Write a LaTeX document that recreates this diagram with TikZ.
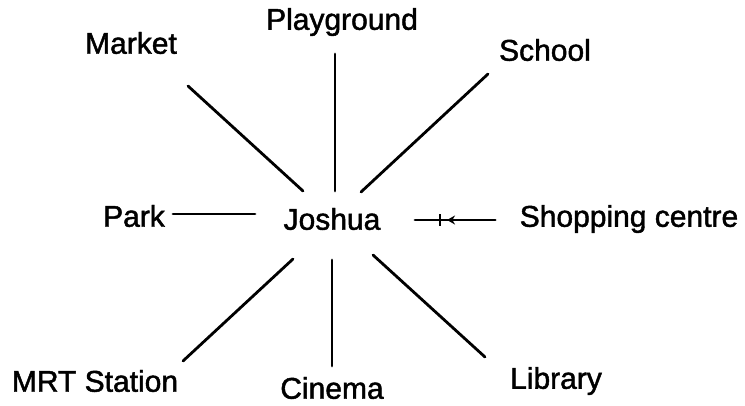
\documentclass[tikz,border=0pt]{standalone}
\usepackage{fontspec}
\setmainfont{Liberation Sans}[FakeBold=1.5]
\usetikzlibrary{arrows.meta}
\begin{document}
\begin{tikzpicture}[x=1pt,y=-1pt,
  lbl/.style={font=\fontsize{30}{33}\selectfont, inner sep=0pt, anchor=center},
  link/.style={line width=2.8pt, line cap=round}]
\useasboundingbox (0,0) rectangle (745,405);
% labels
\node[lbl] (joshua) at (332,219) {Joshua};
\node[lbl] (market) at (131,43) {Market};
\node[lbl] (playground) at (342,22) {Playground};
\node[lbl] (school) at (545,50) {School};
\node[lbl] (park) at (134,216) {Park};
\node[lbl] (shopping) at (629,219) {Shopping centre};
\node[lbl] (mrt) at (95,381) {MRT Station};
\node[lbl] (cinema) at (332,388) {Cinema};
\node[lbl] (library) at (556,381) {Library};
% connector ends
\coordinate (mA) at (188,86);   \coordinate (mB) at (303,191);
\coordinate (pA) at (335,54);   \coordinate (pB) at (335,191);
\coordinate (sA) at (488,74);   \coordinate (sB) at (361,192);
\coordinate (kA) at (173,214);  \coordinate (kB) at (255,214);
\coordinate (hA) at (415,220);  \coordinate (hB) at (495,220);
\coordinate (hT) at (447,220);
\coordinate (rA) at (183,361);  \coordinate (rB) at (293,259);
\coordinate (cA) at (332,260);  \coordinate (cB) at (332,366);
\coordinate (lA) at (373,255);  \coordinate (lB) at (485,357);
% connectors
\draw[link] (mA) -- (mB);
\draw[link] (pA) -- (pB);
\draw[link] (sA) -- (sB);
\draw[link] (kA) -- (kB);
\draw[link] (hA) -- (hB);
\draw[link, -{Stealth[length=8pt,width=9pt]}] (hB) -- (hT);
\draw[line width=2.8pt] (440,214) -- (440,226);
\draw[link] (rA) -- (rB);
\draw[link] (cA) -- (cB);
\draw[link] (lA) -- (lB);
\end{tikzpicture}
\end{document}
